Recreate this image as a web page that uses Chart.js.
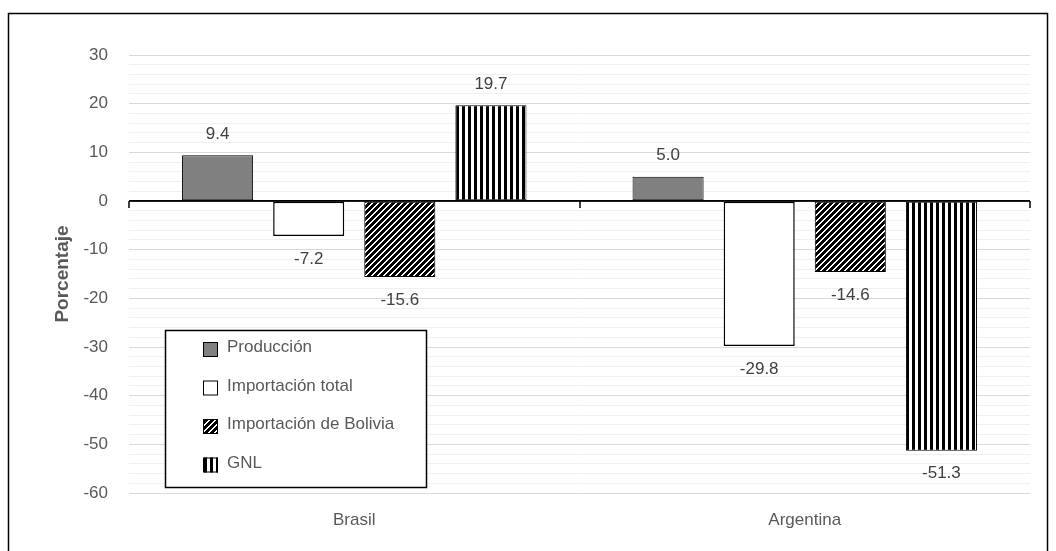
<!DOCTYPE html>
<html>
<head>
<meta charset="utf-8">
<script src="https://cdn.jsdelivr.net/npm/chart.js@4.4.1/dist/chart.umd.min.js"></script>
<style>
  html, body { margin: 0; padding: 0; background: #fff; }
  canvas { display: block; }
</style>
</head>
<body>
<canvas id="chart" width="1056" height="551"></canvas>
<script>
// Variación porcentual por país y componente
const categories = ['Brasil', 'Argentina'];
const seriesNames = ['Producción', 'Importación total', 'Importación de Bolivia', 'GNL'];
const produccion = [9.4, 5.0];
const importacionTotal = [-7.2, -29.8];
const importacionBolivia = [-15.6, -14.6];
const gnl = [19.7, -51.3];
const yMin = -60, yMax = 30, yMajorStep = 10, yMinorStep = 2;

const FONT = '"Liberation Sans", Arial, sans-serif';
const TEXT = '#595959';

// Hatch fills built on a small tile
function makePattern(kind) {
  const size = 6;
  const c = document.createElement('canvas');
  c.width = size; c.height = size;
  const g = c.getContext('2d');
  g.fillStyle = '#fff';
  g.fillRect(0, 0, size, size);
  g.fillStyle = '#000';
  for (let x = 0; x < size; x++) {
    for (let y = 0; y < size; y++) {
      const on = kind === 'diag' ? ((x + y) % size) < 4 : (x % size) < 3;
      if (on) g.fillRect(x, y, 1, 1);
    }
  }
  return g.createPattern(c, 'repeat');
}
const diagFill = makePattern('diag');
const vertFill = makePattern('vert');

const seriesData = [produccion, importacionTotal, importacionBolivia, gnl];
const seriesFill = ['#808080', '#ffffff', diagFill, vertFill];
const seriesBorder = [1, 1.5, 1, 1];

// Frame around the whole figure
const frame = {
  id: 'frame',
  beforeDraw(chart) {
    const ctx = chart.ctx;
    ctx.save();
    ctx.fillStyle = '#fff';
    ctx.fillRect(0, 0, chart.width, chart.height);
    ctx.strokeStyle = '#000';
    ctx.lineWidth = 1.5;
    ctx.strokeRect(8.5, 13.5, 1039, 545);
    ctx.restore();
  }
};

// Short tick marks hanging below the zero line at category boundaries
const zeroTicks = {
  id: 'zeroTicks',
  afterDatasetsDraw(chart) {
    const ctx = chart.ctx;
    const x = chart.scales.x, y = chart.scales.y;
    const y0 = Math.round(y.getPixelForValue(0));
    const xs = [chart.chartArea.left, (x.getPixelForValue(0) + x.getPixelForValue(1)) / 2, chart.chartArea.right];
    ctx.save();
    ctx.strokeStyle = '#000';
    ctx.lineWidth = 1.5;
    ctx.beginPath();
    ctx.moveTo(chart.chartArea.left, y0);
    ctx.lineTo(chart.chartArea.right, y0);
    xs.forEach(px => {
      const p = Math.round(px);
      ctx.moveTo(p, y0);
      ctx.lineTo(p, y0 + 7);
    });
    ctx.stroke();
    ctx.restore();
  }
};

// Value labels at the end of each bar
const valueLabels = {
  id: 'valueLabels',
  afterDatasetsDraw(chart) {
    const ctx = chart.ctx;
    ctx.save();
    ctx.font = '17px ' + FONT;
    ctx.fillStyle = '#404040';
    ctx.textAlign = 'center';
    ctx.textBaseline = 'middle';
    chart.data.datasets.forEach((ds, i) => {
      chart.getDatasetMeta(i).data.forEach((bar, j) => {
        const v = ds.data[j];
        const ly = v >= 0 ? bar.y - 21 : bar.y + 23;
        ctx.fillText(v.toFixed(1), bar.x, ly);
      });
    });
    ctx.restore();
  }
};

// Boxed legend inside the plot area
const boxLegend = {
  id: 'boxLegend',
  afterDraw(chart) {
    const ctx = chart.ctx;
    const box = { l: 165, t: 330, r: 426, b: 487 };
    ctx.save();
    ctx.fillStyle = '#fff';
    ctx.fillRect(box.l, box.t, box.r - box.l, box.b - box.t);
    ctx.strokeStyle = '#000';
    ctx.lineWidth = 1.5;
    ctx.strokeRect(box.l + 0.5, box.t + 0.5, box.r - box.l, box.b - box.t);
    ctx.font = '17px ' + FONT;
    ctx.textAlign = 'left';
    ctx.textBaseline = 'alphabetic';
    const mSize = 15;
    chart.data.datasets.forEach((ds, i) => {
      const top = 342 + i * 38.5;
      ctx.fillStyle = ds.backgroundColor;
      ctx.fillRect(203, top, mSize, mSize);
      ctx.strokeStyle = '#000';
      ctx.lineWidth = 1;
      ctx.strokeRect(203.5, top + 0.5, mSize - 1, mSize - 1);
      ctx.fillStyle = TEXT;
      ctx.fillText(ds.label, 227, top + 10);
    });
    ctx.restore();
  }
};

new Chart(document.getElementById('chart'), {
  type: 'bar',
  data: {
    labels: categories,
    datasets: seriesNames.map((name, i) => ({
      label: name,
      data: seriesData[i],
      backgroundColor: seriesFill[i],
      borderColor: '#000',
      borderWidth: seriesBorder[i],
      borderSkipped: false,
      categoryPercentage: 0.809,
      barPercentage: 0.78
    }))
  },
  options: {
    responsive: false,
    devicePixelRatio: 1,
    animation: false,
    layout: { padding: { left: 51, right: 26, top: 55, bottom: 18 } },
    plugins: {
      legend: { display: false },
      tooltip: { enabled: false }
    },
    scales: {
      x: {
        grid: { display: false, drawTicks: false },
        border: { display: false },
        ticks: { color: TEXT, font: { family: FONT, size: 17 }, padding: 17 },
        afterFit(scale) { scale.height = 40; }
      },
      y: {
        min: yMin,
        max: yMax,
        border: { display: false },
        grid: {
          drawTicks: false,
          color: c => c.tick.value === 0 ? '#000' : (c.tick.value % yMajorStep === 0 ? '#d9d9d9' : '#f0f0f0'),
          lineWidth: c => c.tick.value === 0 ? 1.5 : 1
        },
        ticks: {
          stepSize: yMinorStep,
          autoSkip: false,
          padding: 21,
          color: TEXT,
          font: { family: FONT, size: 17 },
          callback: v => (v % yMajorStep === 0 ? String(v) : '')
        },
        title: {
          display: true,
          text: 'Porcentaje',
          color: TEXT,
          font: { family: FONT, size: 19, weight: 'bold' },
          padding: { top: 0, bottom: 0 }
        },
        afterFit(scale) { scale.width = 78; }
      }
    }
  },
  plugins: [frame, zeroTicks, valueLabels, boxLegend]
});
</script>
</body>
</html>
